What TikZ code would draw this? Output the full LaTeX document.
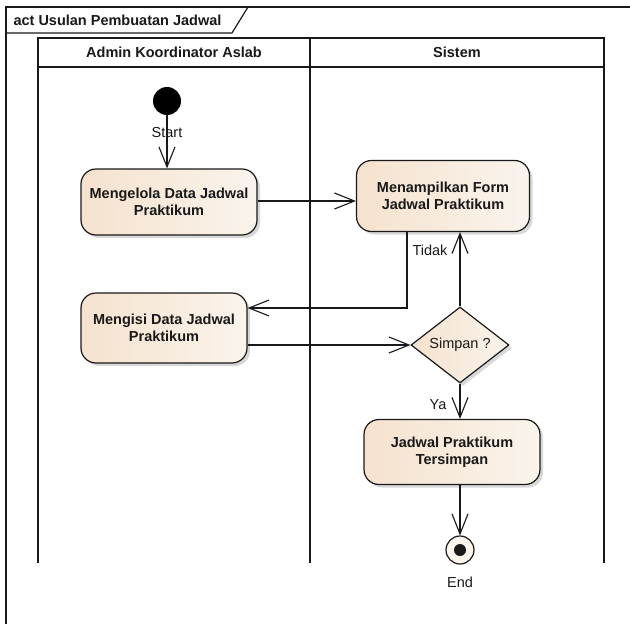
\documentclass[tikz,border=0pt]{standalone}
\usepackage{fontspec}
\setmainfont{Liberation Sans}
\usetikzlibrary{positioning,shapes.geometric,arrows.meta,shadows}

\definecolor{actleft}{RGB}{245,226,206}
\definecolor{actright}{RGB}{250,244,236}
\definecolor{edge}{RGB}{25,25,25}

\begin{document}
\begin{tikzpicture}[x=1pt,y=-1pt,
  every node/.style={font=\fontsize{14.5}{17}\selectfont,text=edge},
  activity/.style={draw=edge,line width=1.2pt,rounded corners=15pt,left color=actleft,right color=actright,
    align=center,font=\fontsize{14.5}{17}\selectfont\bfseries,inner sep=0pt,
    drop shadow={shadow xshift=3pt,shadow yshift=-3pt,opacity=0.3}},
  decision/.style={diamond,draw=edge,line width=1.2pt,left color=actleft,right color=actright,inner sep=0pt,
    minimum width=98pt,minimum height=76pt,
    drop shadow={shadow xshift=3pt,shadow yshift=-3pt,opacity=0.3}},
  lane/.style={draw=edge,line width=1.2pt},
  flow/.style={draw=edge,line width=1.1pt,-{Straight Barb[length=20pt,width=16pt,line width=1.1pt]}}]
\useasboundingbox[fill=white] (0,0) rectangle (630,624);

% frame
\draw[lane] (630,7) -- (6,7) -- (6,624);
\draw[lane] (248,7) -- (232,33) -- (6,33);
\node[anchor=west,font=\fontsize{14.5}{17}\selectfont\bfseries] (title) at (10,20) {act Usulan Pembuatan Jadwal};

% swimlanes
\draw[lane] (38,38) rectangle (310,67);
\draw[lane] (310,38) rectangle (604,67);
\draw[lane] (38,67) -- (38,563);
\draw[lane] (310,67) -- (310,563);
\draw[lane] (604,67) -- (604,563);
\node[font=\fontsize{14.5}{17}\selectfont\bfseries] (admin) at (174,52) {Admin Koordinator Aslab};
\node[font=\fontsize{14.5}{17}\selectfont\bfseries] (sistem) at (457,52) {Sistem};

% nodes
\node[circle,fill=black,minimum size=28pt,inner sep=0pt] (start) at (167,101) {};
\node (startlbl) at (167,133) {Start};
\node[activity,minimum width=176pt,minimum height=66pt] (mengelola) at (169,202) {Mengelola Data Jadwal\\Praktikum};
\node[activity,minimum width=173pt,minimum height=71pt] (menampilkan) at (443,196) {Menampilkan Form\\Jadwal Praktikum};
\node[activity,minimum width=166pt,minimum height=70pt] (mengisi) at (164,328) {Mengisi Data Jadwal\\Praktikum};
\node[decision] (simpan) at (460,345) {Simpan ?};
\node[activity,minimum width=176pt,minimum height=65pt] (tersimpan) at (452,452) {Jadwal Praktikum\\Tersimpan};
\node[circle,draw=edge,line width=1.2pt,fill=actright,minimum size=28pt,inner sep=0pt] (end) at (460,550) {};
\fill[edge] (end) circle[radius=6pt];
\node (endlbl) at (460,582) {End};

% connectors
\coordinate (tidakturn) at (407,308);
\draw[flow] (start) -- (start |- mengelola.north);
\draw[flow] (mengelola.east |- 0,201) -- (menampilkan.west |- 0,201);
\draw[flow] (tidakturn |- menampilkan.south) -- (tidakturn) -- (tidakturn -| mengisi.east);
\node (tidak) at (430,250) {Tidak};
\draw[flow] (simpan.west -| mengisi.east) -- (simpan.west);
\draw[flow] (simpan.north) -- (simpan.north |- menampilkan.south);
\draw[flow] (simpan.south) -- (simpan.south |- tersimpan.north);
\node (ya) at (438,405) {Ya};
\draw[flow] (end |- tersimpan.south) -- (end.north);
\end{tikzpicture}
\end{document}
